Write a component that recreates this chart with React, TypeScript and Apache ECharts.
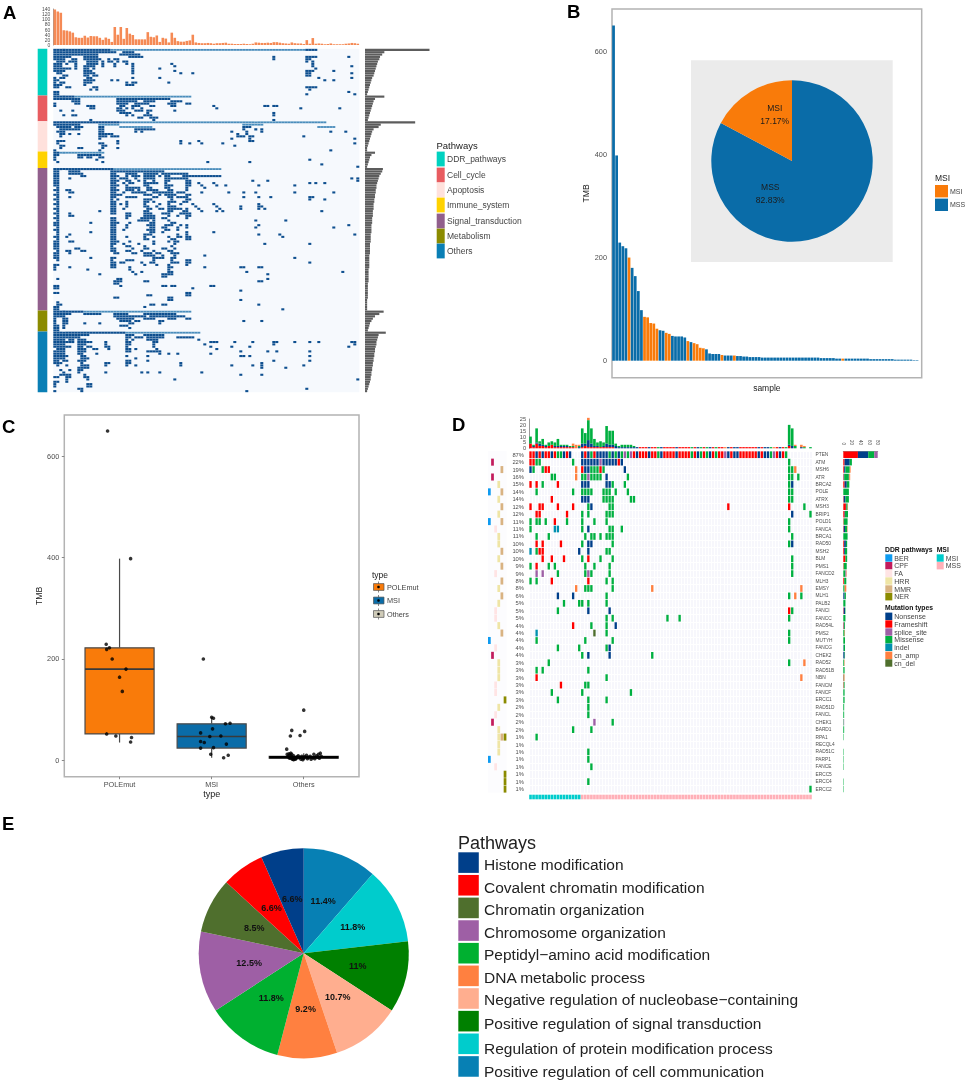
import { useEffect, useRef } from 'react';
import * as echarts from 'echarts';

const FONT = '"Liberation Sans", Arial, sans-serif';

// ---------- panel A ----------
const topCountsA = [
  138, 130, 125, 57, 56, 53, 48, 30, 28, 28, 36, 29, 35, 34, 34, 28, 20, 29, 24, 12,
  70, 40, 70, 24, 66, 44, 39, 22, 22, 22, 22, 50, 32, 30, 37, 12, 28, 25, 10, 48,
  28, 15, 13, 13, 16, 18, 40, 10, 8, 7, 7, 8, 7, 5, 7, 7, 8, 9, 5, 5,
  4, 4, 4, 5, 4, 3, 5, 10, 9, 8, 8, 9, 8, 11, 11, 9, 7, 6, 5, 10,
  7, 6, 6, 4, 19, 5, 27, 5, 6, 5, 3, 4, 6, 3, 3, 3, 3, 5, 6, 8, 7, 5,
];
const pathwayNamesA = ['DDR_pathways', 'Cell_cycle', 'Apoptosis', 'Immune_system', 'Signal_transduction', 'Metabolism', 'Others'];
const pathwayRowsA = [20, 11, 13, 7, 61, 9, 26];
const pathwayColorsA = ['#00d2c0', '#e85c60', '#ffe1dc', '#ffd200', '#915f8c', '#8b8b00', '#0a7fb5'];

// one string per heatmap row: mutated columns, "a-b" is a run
const mutatedRowsA = [
  // DDR_pathways
  '0-18,84-87', '0-18,19-20,23-26', '0-9,10-14,22-25,26-28', '0-5,10-14,25-29,73,84-87,98', '0-3,6-7,10-14,15,18,20-21,73,84-85',
  '1-3,5-6,7,11-14,16,18-19,21,23-24,84,86', '0-2,4,7,11-14,16,20,24,26,39,86', '0-2,7,10-13,16,20,26,40,86,99', '0-2,3-5,7,10-11,13,26,35,87', '0-1,2-3,10-12,26,40,84-86,93',
  '1-2,10-13,26,42,46,84-85,99', '3-4,10-11,13-14,84-85', '0,2-3,11-12,26,35,88,99', '0-1,10-13,19,21,90,93', '0,2-3,10-12,24,26-27,38',
  '0-2,10,24-26', '0-1,4-5,13-14,84-87', '12,14,85', '0-1,98', '0-1,84,100',
  // Cell_cycle
  '0-6', '0-8,21-38', '6-8,21-27,30-33,39-42', '0,7-8,21-24,27-31,38-40,44-45', '0,11-13,22-23,26-28,32-33,39-40,53,70-71,73-74',
  '12-13,21-22,24,26,29,54,82,95', '2,6,21-23,27-29,31-32,40', '22-25,31,73', '3,6-7,24,26,30-32,73', '28-29,32-34', '12,33,73',
  // Apoptosis
  '0-21', '0-8', '1-5,7-9,15-16,63-65', '2-8,15-16,27-33,63,67,69', '1-3,15-16,27,29,59,64,69,92,97',
  '2-3,5,8,15-16,17-19,61,64', '2,15-17,19-21,61-63,65-66,83', '15,59,65,100', '1-3,21,42,48,65-66', '1,15-16,21,42,45,49,56,100',
  '2-3,16-17,60', '2,8-9,16,21', '0,15,92',
  // Immune_system
  '0-1', '0-1,8-15', '0,8-9,11-12,15-16', '0,14,85', '1,16,51,65', '89', '101',
  // Signal_transduction
  '0-19', '0-1,5-8,19-36', '0-1,5-9,19-20,24-27,30-34,36-44', '0-1,9-10,19-21,24,26-28,30-33,35,37-38,43-55', '0-1,5,19-20,22-24,27,30-33,37-44,99,101',
  '0-1,19-21,24-25,28,30,33,37-38,44-45,66,71,101', '0-1,19-20,23,25-26,30-34,37,44-45,48,53,85,87,90', '0-1,19-21,24,30-31,37-39,44-45,49,54,57,68,80', '1,19-20,24-28,31-32,37-38,44,50', '0-1,4-5,19-21,24-26,28,31-34,38-39,44',
  '1,5-6,19-20,23,26-30,33-36,37-39,41-43,49,58,63,67,80,93', '0-1,19-22,30-32,35,37-40,44-45', '1,5,19-20,24-27,33-34,38-39,41-44,63,68,72,85-86', '0-1,19,21,30-32,39,44-45,85,90', '1,19-20,24,30-31,33,38-40,43-44',
  '0-1,19-20,22,24,30,35,38,42,46,53,68', '1,19-20,24,30-31,34,38-40,47,54,62,68-69', '0-1,19-20,23,31-32,35-36,38-42,44,48,55,62,68,70', '1,15,19-20,30-31,38-39,43-44,49,54,56,89', '0-1,5,19-20,24-25,30-32,36-37,38,42-45',
  '1,5-6,24-25,30-33,38,41,44-45', '0-1,19-20,24,29-33,36-37,44', '1,19-20,28-31,33,38,67,77', '0-1,12,19-21,25,32-33,39-40', '0-1,19-20,24,31-33,37-39,42,44,68,98',
  '1,19-20,24,32-33,36-37,41,44,67,93', '0-1,19-20,23,31-33,37-38,41', '1,12,19-20,32-33,36,44,53', '1,5,19-20,30-32,41,44,68,75,100', '0-1,4,19-20,24,30,33,38,41-42,44-45,76',
  '1,19-20,30-31,39-40,44-45', '0-1,5-6,19-21,25,33,38,40-41', '0-1,19-20,23,28,33,40,70,85', '0-1,19,24-25,30,39', '0-1,7-8,19-20,26,30-31,36-37,40',
  '1,4-5,9-10,19-20,24-25,29,33,38-39', '0-1,5,20-21,26-27,30-32,34-35,39-41', '0-1,30-33,36,40,50', '0-1,12,19-20,33-36,39-40,80', '1,19,24-26,33,39,44-45',
  '19-20,22-23,29,32-33,39-41,44-45,85', '0-1,19-20,30,34,38,44', '0,5,19-20,25,38-39,50,62-63,68-69', '0,11,25,38', '26,29,38-39,64,96',
  '15,27,36-37,38-39,71', '36-37', '1,21-22,71', '20-22,30-31,68-69', '20-21',
  '0-1,22,36-37,39-40,52-53', '0-1,46', '62', '0-1,44-45', '31-32,44-45',
  '20-21,38-39', '38-39,62', '1', '1-2,32-33,36-37,68', '0-1,30', '0-1,76',
  // Metabolism
  '0-9', '0-5,10-15,20-24,30-40', '0-3,20-30,32-36,37-43', '0,3-4,21-26,30-33,38-40,44-45', '0,3-4,22-25,27-28,35-36,63,69',
  '0,3-4,10,15,25-26,35', '0-1,3,22-24', '0-1,3,25', '0-1',
  // Others
  '0-23', '0-11,24-26,30-36', '0-8,24-25,27-29,31-36,41-46', '0-3,5-6,8-10,24,26,31-34,48', '0-6,8-12,17,24-25,33-34,52-54,60,66,73-74,80,85,88,99-100',
  '0-3,8-10,17,24-25,33,50,73,100', '0-5,8-9,11-12,17-18,24,33,52,59,65,98', '1-3,8-10,13-14,18,24-25,27,34,54', '0-3,8-10,24-25,31-35,62,71,74,85', '0-3,8-9,14,35,38,41,52',
  '0-4,9-10,24,31,62-63,65,85', '0-3,9-11,27', '0-1,3-4,8-10,24-25,31,73,85', '0-2,9,17-18,24-25,42,69', '1,4,9-11,17,24,27,42,59,66,69,83',
  '8-11,69,77', '2,5,8-9', '3,8,17,29,31,35,49', '2-5,10,62,69', '0-1,4-5,10-11',
  '4,11,40,101', '0-1,4', '0,11-12', '0,11-12', '8-9,84', '0,9,64',
];
// long single rows that read paler in the picture: row, from, to
const paleBandsA = [
  [0, 19, 83], [20, 7, 45], [31, 22, 90], [32, 15, 21], [32, 63, 69], [33, 22, 32], [33, 88, 93],
  [44, 2, 16], [51, 20, 55], [112, 10, 45], [121, 24, 48],
];
const rowTotalsA = [
  90, 27, 24, 21, 20, 18, 17, 16, 15, 14, 13, 12, 10, 9, 8, 7, 6, 5, 4, 3,
  27, 14, 12, 11, 10, 9, 8, 7, 6, 5, 4,
  70, 22, 19, 12, 10, 9, 8, 7, 6, 5, 4, 3, 3,
  14, 9, 7, 6, 5, 4, 3,
  25, 24, 22, 20, 19, 18, 17, 16, 16, 15, 15, 14, 14, 13, 13, 12, 12, 12, 11, 11,
  11, 10, 10, 10, 9, 9, 9, 9, 8, 8, 8, 8, 7, 7, 7, 7, 7, 6, 6, 6,
  6, 6, 6, 5, 5, 5, 5, 5, 5, 4, 4, 4, 4, 4, 4, 4, 3, 3, 3, 3, 3,
  26, 20, 14, 11, 9, 7, 6, 5, 4,
  29, 19, 18, 17, 16, 16, 15, 14, 14, 13, 13, 12, 12, 11, 11, 10, 10, 9, 9, 8, 8, 7, 6, 5, 4, 3,
];

// ---------- panel B ----------
const tmbSorted = [
  650, 398, 229, 222, 218, 200, 180, 164, 135, 98, 85, 84, 73, 72, 62, 59, 58, 54, 52, 48,
  47, 47, 47, 45, 38, 36, 34, 32, 25, 24, 22, 14, 13, 13, 13, 11, 10, 10, 10, 10,
  9, 9, 8, 8, 7, 7, 7, 7, 6, 6, 6, 6, 6, 6, 6, 6, 6, 6, 6, 6,
  6, 6, 6, 6, 6, 6, 6, 5, 5, 5, 5, 5, 4, 4, 4, 4, 4, 4, 4, 4,
  4, 4, 4, 3, 3, 3, 3, 3, 3, 3, 3, 2, 2, 2, 2, 2, 2, 1, 1,
];
const msiSampleIndex = [5, 10, 11, 12, 13, 14, 17, 18, 24, 26, 27, 28, 29, 35, 39, 74];
const msiShare = [
  { name: 'MSS', value: 82.83 },
  { name: 'MSI', value: 17.17 },
];

// ---------- panel C ----------
const typeNames = ['POLEmut', 'MSI', 'Others'];
// position, lower whisker, q1, median, q3, upper whisker
const typeBoxes = [
  [1, 35, 52, 180, 222, 398],
  [2, 5, 24, 47, 72, 85],
  [3, 1, 4, 6, 8, 14],
];
const pointsPole = [
  [0.87, 650], [1.12, 398], [0.855, 229], [0.89, 222], [0.86, 219], [0.92, 200], [1.07, 180],
  [1.0, 164], [1.03, 136], [0.86, 52], [0.96, 48], [1.13, 45], [1.12, 36],
];
const pointsMsi = [
  [1.91, 200], [2.0, 85], [2.02, 83], [2.15, 72], [2.2, 73], [2.01, 62], [1.88, 54], [2.1, 48], [1.98, 47],
  [1.88, 37], [1.92, 35], [2.16, 32], [1.88, 24], [2.02, 25], [1.99, 12], [2.18, 10], [2.13, 5],
];
const pointsOthers = [
  [3.0, 99], [2.87, 59], [3.01, 57], [2.855, 48], [2.96, 49], [2.815, 22],
  [2.82, 12], [2.83, 8], [2.84, 5], [2.84, 13], [2.85, 4], [2.85, 10], [2.86, 14], [2.86, 7], [2.87, 3], [2.87, 12],
  [2.88, 6], [2.88, 2], [2.89, 1], [2.89, 9], [2.9, 3], [2.91, 2], [2.92, 4], [2.93, 7], [2.94, 9], [2.95, 5],
  [2.96, 6], [2.97, 2], [2.98, 8], [2.99, 1], [3.0, 4], [3.01, 7], [3.03, 10], [3.04, 3], [3.05, 6], [3.07, 8],
  [3.08, 2], [3.1, 5], [3.11, 12], [3.12, 3], [3.14, 9], [3.15, 6], [3.16, 12], [3.17, 4], [3.18, 14], [3.19, 8],
];

// ---------- panel D ----------
const geneNames = [
  'PTEN', 'ATM', 'MSH6', 'ATR', 'BRCA2', 'POLE', 'ATRX', 'MSH3', 'BRIP1', 'POLD1', 'FANCA', 'BRCA1', 'RAD50', 'MSH2', 'BLM', 'PMS1',
  'FANCD2', 'MLH3', 'EMSY', 'MLH1', 'PALB2', 'FANCI', 'FANCC', 'RAD54L', 'PMS2', 'MUTYH', 'FANCG', 'CHEK2', 'RAD52', 'RAD51B', 'NBN',
  'FANCM', 'FANCF', 'ERCC1', 'RAD51D', 'FANCL', 'CHEK1', 'BARD1', 'RPA1', 'RECQL4', 'RAD51C', 'PARP1', 'FANCE', 'ERCC5', 'ERCC4', 'ERCC2',
];
const genePercents = [
  '87%', '22%', '19%', '16%', '15%', '14%', '14%', '12%', '12%', '11%', '11%', '11%', '10%', '10%', '10%', '9%',
  '9%', '8%', '8%', '6%', '5%', '5%', '5%', '4%', '4%', '4%', '4%', '4%', '3%', '3%', '3%',
  '3%', '3%', '3%', '2%', '2%', '2%', '2%', '1%', '1%', '1%', '1%', '1%', '1%', '1%', '1%',
];
const ddrPathwayNames = ['BER', 'CPF', 'FA', 'HRR', 'MMR', 'NER'];
const ddrPathwayColors = ['#0f9bf0', '#c21b5c', '#ffe4e4', '#efe5a5', '#d9b382', '#8b8b00'];
const genePathways = [
  '', 'CPF', 'MMR', 'CPF', 'HRR', 'BER MMR', 'HRR', 'MMR', 'HRR', 'BER MMR', 'FA', 'HRR', 'HRR', 'MMR', 'HRR', 'MMR',
  'FA', 'MMR', 'HRR', 'MMR', 'HRR', 'FA', 'FA', 'HRR', 'MMR', 'BER', 'FA', 'CPF', 'HRR', 'HRR', 'HRR',
  'FA', 'FA', 'NER', 'HRR', 'FA', 'CPF', 'HRR', 'HRR MMR NER', 'HRR', 'HRR', 'BER', 'FA', 'NER', 'NER', 'NER',
];
const mutationNames = ['Nonsense', 'Frameshift', 'splice_site', 'Missense', 'indel', 'cn_amp', 'cn_del'];
const mutationCodes = ['N', 'F', 'S', 'M', 'I', 'A', 'D'];
const mutationColors = ['#003f8a', '#ff0000', '#9e5fa5', '#00b040', '#0090b0', '#ff8040', '#4f6f2d'];

const ptenFirst = 'FFNFNFFNFMMNFN'; // columns 0-13
const ptenMiddle = 'NFNMFNNNNMNMNMSMSF'; // columns 17-34
const ptenLast = 'NFFFNFFMNFFFFNFFFFMFNMFMNFMFFSNFNNFFFFFFNFNNMSFNFM'; // columns 35-84
const oncoRows = [
  '',
  '0F 1F 2M 3M 14M 17N 18N 19N 20N 21N 22N 23S 24N 25N 26N 27N 28N 29F 30N 85M',
  '0N 1M 4M 5F 6F 15A 17F 18N 19N 20M 21M 22M 23F 24M 31N 85M 86M 87A',
  '7M 8M 15A 17M 18M 19S 20M 21M 22M 23M 25N 32M 85M 86M 88M',
  '0F 2F 4M 9F 17N 18N 19N 25N 26N 27M 31M 85M 86N',
  '2M 14M 17M 18M 19M 20M 24M 25M 26M 28M 32M 85M 86M',
  '7F 17N 18N 19N 24M 25M 26M 27M 33M 34M 85M 86M',
  '0F 3F 4F 9F 14F 19M 20N 26M 27M 65F 85F 90M',
  '2F 3F 12F 17M 19M 25M 26M 27M 86N 92M',
  '0M 2M 3M 5M 8F 12M 17M 21M 25M 85M',
  '0M 8I 9I 17M 19N 26M 27M 30M 85M',
  '2M 6M 18M 20M 21M 23M 25M 26M 27M 86M',
  '2F 4F 10F 17M 19N 20N 27M 85M 86N',
  '0I 2M 3F 4F 16N 19N 25M 26M',
  '4F 7F 11F 17M 19F 23M 27M 86M',
  '0M 2F 6M 8M 18M 21M 26M 86M',
  '2S 4S 9M 18M 19S 20M 26M 86M',
  '0M 2M 7F 19F 25M 27M',
  '15A 18M 19M 20M 27M 40A 89A',
  '9N 14N 25M 85M 87A 89M',
  '11M 16M 17M 19M 25M',
  '9M 19N 26N 85F 86M',
  '25M 27M 45M 49M 85M',
  '14F 20M 25M 28N',
  '2I 21D 25M 85M',
  '2M 18M 27M 85M',
  '9M 16M 25M 26N',
  '17M 19N 26N 40M',
  '6M 85M 90A',
  '2M 4M 19M',
  '2F 25M 89A',
  '10F 18M 19M',
  '7M 17M 33M',
  '9M 19M 25M',
  '19M',
  '19M',
  '21S 27M',
  '14M 20M',
  '2M',
  '',
  '19M',
  '19M',
  '20M',
  '',
  '19M',
  '92M',
];
const msiRuns: [string, number, number][] = [
  ['MSI', 0, 16],
  ['MSS', 17, 92],
];
const msiRunColors: Record<string, string> = { MSI: '#00cccc', MSS: '#ffb0b8' };

// stacked counts above the oncoprint; the long flat tail comes from ptenLast
const topFrameshift = [4, 1, 4, 2, 2, 1, 2, 3, 1, 1, 1, 1, 1, 1, 1, 0, 0, 1, 2, 1, 1, 1, 1, 1, 1, 1, 1, 1, 0, 0, 0, 0, 0, 0, 0];
const topNonsense = [0, 1, 1, 2, 1, 1, 0, 0, 1, 1, 1, 1, 1, 0, 0, 0, 1, 3, 2, 6, 3, 1, 1, 0, 1, 3, 2, 2, 2, 1, 1, 1, 1, 1, 1];
const topMissense = [6, 1, 12, 2, 5, 1, 3, 3, 3, 6, 1, 1, 1, 1, 1, 0, 1, 13, 9, 17, 13, 6, 3, 5, 3, 15, 12, 12, 2, 1, 2, 2, 2, 2, 1];
const topOther = [0, 0, 0, 0, 0, 0, 0, 0, 0, 0, 0, 0, 0, 0, 2, 3, 1, 0, 0, 2, 0, 0, 0, 0, 0, 0, 0, 0, 0, 0, 0, 0, 0, 0, 0];
const endFrameshift = [2, 0, 0, 0, 0, 0, 0, 0];
const endNonsense = [1, 2, 0, 0, 1, 0, 0, 0];
const endMissense = [17, 15, 2, 0, 0, 1, 0, 1];
const endOther = [0, 0, 1, 0, 2, 1, 0, 0];

// stacked counts per gene, right of the oncoprint
const sideFrameshift = [34, 3, 2, 1, 3, 0, 1, 6, 3, 1, 1, 0, 2, 2, 5, 1, 0, 2, 0, 0, 0, 1, 0, 1, 0, 0, 0, 0, 0, 0, 1, 1, 0, 0, 0, 0, 0, 0, 0, 0, 0, 0, 0, 0, 0, 0];
const sideNonsense = [24, 12, 3, 1, 5, 0, 4, 1, 1, 0, 3, 0, 4, 2, 0, 0, 0, 0, 0, 3, 0, 3, 0, 1, 0, 0, 1, 3, 0, 0, 0, 0, 0, 0, 0, 0, 0, 0, 0, 0, 0, 0, 0, 0, 0, 0];
const sideMissense = [14, 5, 10, 11, 6, 13, 8, 3, 7, 9, 5, 10, 3, 5, 4, 7, 5, 5, 3, 3, 5, 1, 5, 2, 3, 4, 3, 1, 2, 3, 1, 2, 3, 3, 2, 2, 1, 2, 1, 0, 1, 1, 1, 0, 1, 1];
const sideSplice = [8, 0, 0, 1, 0, 0, 0, 0, 0, 0, 0, 0, 0, 0, 0, 0, 2, 0, 0, 0, 0, 0, 0, 0, 0, 0, 0, 0, 0, 0, 0, 0, 0, 0, 0, 0, 1, 0, 0, 0, 0, 0, 0, 0, 0, 0];
const sideAmp = [0, 0, 2, 2, 0, 0, 0, 1, 0, 0, 1, 0, 0, 0, 0, 0, 1, 0, 4, 0, 0, 0, 0, 0, 1, 0, 0, 0, 1, 0, 1, 0, 0, 0, 0, 0, 0, 0, 0, 0, 0, 0, 0, 0, 0, 0];

// ---------- panel E ----------
const pathwayNamesE = [
  'Histone modification', 'Covalent chromatin modification', 'Chromatin organization', 'Chromosome organization',
  'Peptidyl\u2212amino acid modification', 'DNA metabolic process', 'Negative regulation of nucleobase\u2212containing',
  'Positive regulation of signal transduction', 'Regulation of protein modification process', 'Positive regulation of cell communication',
];
const pathwayShareE = [6.6, 6.6, 8.5, 12.5, 11.8, 9.2, 10.7, 11, 11.8, 11.4];
const pathwayColorsE = ['#003f8a', '#ff0000', '#4f6f2d', '#9e5fa5', '#00b030', '#ff8040', '#ffae8f', '#008000', '#00cccc', '#0780b4'];

const BLUE = '#0a6ca8';
const ORANGE = '#f97b0a';
const NAVY = '#0e4f8f';
const cols = (n: number) => Array.from({ length: n }, (_, i) => String(i));

function parseRows(rows: string[]) {
  const cells: number[][] = [];
  rows.forEach((row, r) => {
    if (!row) return;
    row.split(',').forEach((part) => {
      const [a, b] = part.split('-').map(Number);
      for (let c = a; c <= (b ?? a); c++) cells.push([c, r]);
    });
  });
  return cells;
}

function buildOption(): any {
  // panel D cells, one list per mutation type
  const pten = [...ptenFirst].map((t, i) => `${i}${t}`)
    .concat([...ptenMiddle].map((t, i) => `${i + 17}${t}`))
    .concat([...ptenLast].map((t, i) => `${i + 35}${t}`));
  const byType: Record<string, number[][]> = {};
  mutationCodes.forEach((c) => (byType[c] = []));
  oncoRows.forEach((row, r) => {
    const parts = r === 0 ? pten : row ? row.split(' ') : [];
    parts.forEach((p) => byType[p.slice(-1)].push([parseInt(p, 10), r]));
  });
  const tailCount = (code: string) => [...ptenLast].map((t) => (t === code ? 1 : 0));
  const topStacks = [
    { data: [...topFrameshift, ...tailCount('F'), ...endFrameshift], color: mutationColors[1] },
    { data: [...topNonsense, ...tailCount('N'), ...endNonsense], color: mutationColors[0] },
    { data: [...topMissense, ...tailCount('M'), ...endMissense], color: mutationColors[3] },
    { data: [...topOther, ...tailCount('S'), ...endOther], color: '#ff8040' },
  ];
  const sideStacks = [
    { data: sideFrameshift, color: mutationColors[1] },
    { data: sideNonsense, color: mutationColors[0] },
    { data: sideMissense, color: mutationColors[3] },
    { data: sideSplice, color: mutationColors[2] },
    { data: sideAmp, color: mutationColors[5] },
  ];
  const pathwayCells: Record<string, number[][]> = {};
  ddrPathwayNames.forEach((n) => (pathwayCells[n] = []));
  genePathways.forEach((g, r) => {
    if (g) g.split(' ').forEach((n) => pathwayCells[n].push([ddrPathwayNames.indexOf(n), r]));
  });
  const paleCells: number[][] = [];
  paleBandsA.forEach(([r, a, b]) => {
    for (let c = a; c <= b; c++) paleCells.push([c, r]);
  });
  const msiCells = msiRuns.map(([name, a, b]) => {
    const list: number[][] = [];
    for (let c = a; c <= b; c++) list.push([c, 0]);
    return { name, list };
  });

  const rowCats = cols(rowTotalsA.length);
  const tickText = { fontFamily: FONT, color: '#4d4d4d' };
  const hiddenCat = (gridIndex: number, data: string[], inverse = false) => ({ type: 'category', gridIndex, data, show: false, inverse });
  const frameAxisLabels = [0, 200, 400, 600];
  const smallAxis = {
    splitLine: { show: false },
    axisLine: { show: true, lineStyle: { color: '#555', width: 0.6 } },
    axisTick: { length: 2, lineStyle: { color: '#555', width: 0.6 } },
  };

  const grid = [
    { left: 53.3, top: 9, width: 306, height: 36, show: false },
    { left: 37.7, top: 48.7, width: 9.6, height: 343.6 },
    { left: 53.3, top: 48.7, width: 306, height: 343.6, show: true, backgroundColor: '#f6f9fd', borderWidth: 0 },
    { left: 365, top: 48.7, width: 64.5, height: 343.6 },
    { left: 612, top: 9, width: 309.7, height: 368.7, show: true, borderColor: '#b3b3b3', borderWidth: 1.5 },
    { left: 64.3, top: 415, width: 294.7, height: 361.7, show: true, borderColor: '#b3b3b3', borderWidth: 1.5 },
    { left: 529, top: 419, width: 283, height: 29.3 },
    { left: 487.8, top: 451, width: 18.8, height: 341.8, show: true, backgroundColor: '#fcfcfe', borderWidth: 0 },
    { left: 529, top: 451, width: 283, height: 341.8, show: true, backgroundColor: '#f7f7fc', borderWidth: 0 },
    { left: 843.3, top: 451, width: 34.4, height: 341.8 },
    { left: 529, top: 794.5, width: 283, height: 5 },
  ];

  const xAxis: any[] = [
    hiddenCat(0, cols(topCountsA.length)),
    hiddenCat(1, ['annotation']),
    hiddenCat(2, cols(topCountsA.length)),
    { type: 'value', gridIndex: 3, min: 0, max: 90, show: false },
    {
      type: 'category', gridIndex: 4, data: cols(100), name: 'sample', nameLocation: 'middle', nameGap: 6,
      nameTextStyle: { fontFamily: FONT, fontSize: 8.5, color: '#222' },
      axisLine: { show: false }, axisTick: { show: false }, axisLabel: { show: false },
    },
    {
      type: 'value', gridIndex: 5, min: 0.4, max: 3.6, name: 'type', nameLocation: 'middle', nameGap: 13,
      nameTextStyle: { fontFamily: FONT, fontSize: 9, color: '#222' },
      axisLine: { show: false, onZero: false }, splitLine: { show: false },
      axisTick: { customValues: [1, 2, 3], length: 2.5, lineStyle: { color: '#888' } },
      axisLabel: { customValues: [1, 2, 3], formatter: (v: number) => typeNames[v - 1], fontSize: 7.3, margin: 4, ...tickText },
    },
    hiddenCat(6, cols(93)),
    hiddenCat(7, ddrPathwayNames),
    {
      type: 'category', gridIndex: 8, data: cols(93),
      axisLine: { show: false }, axisTick: { show: false }, axisLabel: { show: false },
      splitLine: { show: true, interval: 0, lineStyle: { color: '#ffffff', width: 1 } },
    },
    {
      type: 'value', gridIndex: 9, position: 'top', min: 0, max: 80, interval: 20, ...smallAxis,
      axisLabel: { rotate: 90, fontSize: 4.6, margin: 6, showMinLabel: true, showMaxLabel: true, ...tickText },
    },
    hiddenCat(10, cols(93)),
  ];

  const yAxis: any[] = [
    {
      type: 'value', gridIndex: 0, min: 0, max: 140, interval: 20, ...smallAxis,
      axisLabel: { fontSize: 5, margin: 3, showMinLabel: true, showMaxLabel: true, ...tickText },
    },
    { type: 'value', gridIndex: 1, min: 0, max: rowTotalsA.length, inverse: true, show: false },
    hiddenCat(2, rowCats, true),
    hiddenCat(3, rowCats, true),
    {
      type: 'value', gridIndex: 4, min: -33, max: 682, name: 'TMB', nameLocation: 'middle', nameGap: 19,
      nameTextStyle: { fontFamily: FONT, fontSize: 8.7, color: '#222' },
      axisLine: { show: false }, splitLine: { show: false },
      axisTick: { customValues: frameAxisLabels, length: 2.5, lineStyle: { color: '#888' } },
      axisLabel: { customValues: frameAxisLabels, fontSize: 7.3, margin: 5, ...tickText },
    },
    {
      type: 'value', gridIndex: 5, min: -32.4, max: 681.5, name: 'TMB', nameLocation: 'middle', nameGap: 19,
      nameTextStyle: { fontFamily: FONT, fontSize: 8.7, color: '#222' },
      axisLine: { show: false }, splitLine: { show: false },
      axisTick: { customValues: frameAxisLabels, length: 2.5, lineStyle: { color: '#888' } },
      axisLabel: { customValues: frameAxisLabels, fontSize: 7.3, margin: 5, ...tickText },
    },
    {
      type: 'value', gridIndex: 6, min: 0, max: 25, interval: 5, ...smallAxis,
      axisLabel: { fontSize: 5.6, margin: 3, showMinLabel: true, showMaxLabel: true, ...tickText },
    },
    hiddenCat(7, geneNames, true),
    {
      type: 'category', gridIndex: 8, data: genePercents, inverse: true, position: 'left',
      axisLine: { show: false }, axisTick: { show: false },
      axisLabel: { interval: 0, fontSize: 5.8, margin: 5, ...tickText },
      splitLine: { show: true, interval: 0, lineStyle: { color: '#ffffff', width: 1 } },
    },
    hiddenCat(9, geneNames, true),
    hiddenCat(10, ['MSI']),
    {
      type: 'category', gridIndex: 8, data: geneNames, inverse: true, position: 'right',
      axisLine: { show: false }, axisTick: { show: false }, splitLine: { show: false },
      axisLabel: { interval: 0, fontSize: 4.8, margin: 3.5, align: 'left', ...tickText },
    },
  ];

  // category cells as rects sized by the two band axes
  const cellSeries = (gridIndex: number, data: number[][], color: string, name: string, insetX = 0, insetY = 0) => ({
    type: 'custom', name, xAxisIndex: gridIndex, yAxisIndex: gridIndex, data, encode: { x: 0, y: 1 }, silent: true,
    renderItem: (_: any, api: any) => {
      const [cx, cy] = api.coord([api.value(0), api.value(1)]);
      const [w, h] = api.size([1, 1]);
      return {
        type: 'rect',
        shape: { x: cx - w / 2 + insetX / 2, y: cy - h / 2 + insetY / 2, width: w - insetX, height: h - insetY },
        style: { fill: color },
      };
    },
  });

  const series: any[] = [
    {
      type: 'bar', xAxisIndex: 0, yAxisIndex: 0, data: topCountsA, barCategoryGap: '14%',
      itemStyle: { color: '#f58a55' }, clip: false,
    },
    ...pathwayNamesA.map((name, i) => ({
      type: 'bar', name, xAxisIndex: 1, yAxisIndex: 1, stack: 'pathway', barWidth: '100%',
      data: [pathwayRowsA[i]], itemStyle: { color: pathwayColorsA[i] },
    })),
    cellSeries(2, paleCells, '#4a8dbc', 'single-row bands', 0, 0.5),
    cellSeries(2, parseRows(mutatedRowsA), NAVY, 'mutated', 0, 0.25),
    {
      type: 'bar', xAxisIndex: 3, yAxisIndex: 3, data: rowTotalsA, barCategoryGap: '8%',
      itemStyle: { color: '#5c5c5c' },
    },
    {
      type: 'bar', xAxisIndex: 4, yAxisIndex: 4, barCategoryGap: '12%',
      data: tmbSorted.map((value, i) => ({
        value,
        itemStyle: { color: msiSampleIndex.includes(i) ? ORANGE : BLUE },
      })),
    },
    {
      type: 'pie', center: [792, 161], radius: 80.7, startAngle: 90, silent: true,
      data: msiShare.map((d) => ({
        ...d,
        itemStyle: { color: d.name === 'MSI' ? ORANGE : BLUE },
        label: { offset: d.name === 'MSI' ? [5, -9] : [-44, -5] },
      })),
      label: {
        position: 'inside', formatter: '{b}\n{c}%', fontFamily: FONT, fontSize: 8.5, lineHeight: 13, color: '#1c1c1c',
      },
      labelLine: { show: false },
    },
    {
      type: 'custom', xAxisIndex: 5, yAxisIndex: 5, data: typeBoxes, encode: { x: 0, y: [1, 2, 3, 4, 5] },
      renderItem: (_: any, api: any) => {
        const x = api.value(0);
        const i = x - 1;
        const fill = [ORANGE, BLUE, '#cfcbb8'][i];
        const half = api.size([0.375, 0])[0];
        const [cx, lo] = api.coord([x, api.value(1)]);
        const q1 = api.coord([x, api.value(2)])[1];
        const med = api.coord([x, api.value(3)])[1];
        const q3 = api.coord([x, api.value(4)])[1];
        const hi = api.coord([x, api.value(5)])[1];
        const ink = { stroke: '#4a4a4a', lineWidth: 1.2 };
        return {
          type: 'group',
          children: [
            { type: 'line', shape: { x1: cx, y1: lo, x2: cx, y2: q1 }, style: ink },
            { type: 'line', shape: { x1: cx, y1: q3, x2: cx, y2: hi }, style: ink },
            { type: 'rect', shape: { x: cx - half, y: q3, width: half * 2, height: q1 - q3 }, style: { fill, ...ink } },
            {
              type: 'line', shape: { x1: cx - half, y1: med, x2: cx + half, y2: med },
              style: { stroke: i === 2 ? '#000' : '#3a3a3a', lineWidth: i === 2 ? 2.4 : 1.6 },
            },
          ],
        };
      },
    },
    ...[pointsPole, pointsMsi, pointsOthers].map((data, i) => ({
      type: 'scatter', name: typeNames[i], xAxisIndex: 5, yAxisIndex: 5, data, symbolSize: 3.6, z: 4,
      itemStyle: { color: '#000' },
    })),
    ...topStacks.map((s) => ({
      type: 'bar', xAxisIndex: 6, yAxisIndex: 6, stack: 'top', data: s.data, barCategoryGap: '14%',
      itemStyle: { color: s.color }, clip: false,
    })),
    ...ddrPathwayNames.map((n, i) => cellSeries(7, pathwayCells[n], ddrPathwayColors[i], n, 0.4, 0.4)),
    ...mutationCodes.map((c, i) => cellSeries(8, byType[c], mutationColors[i], mutationNames[i], 0.7, 0.7)),
    ...sideStacks.map((s) => ({
      type: 'bar', xAxisIndex: 9, yAxisIndex: 9, stack: 'side', data: s.data, barCategoryGap: '12%',
      itemStyle: { color: s.color },
    })),
    ...msiCells.map(({ name, list }) => cellSeries(10, list, msiRunColors[name], `${name} status`, 0.4, 0.4)),
    {
      type: 'pie', center: [303.7, 953.3], radius: 105, startAngle: 90, clockwise: true, silent: true,
      data: pathwayNamesE.map((name, i) => ({
        name, value: pathwayShareE[i], itemStyle: { color: pathwayColorsE[i] },
      })).reverse(),
      label: { position: 'inside', formatter: '{c}%', fontFamily: FONT, fontSize: 9, fontWeight: 'bold', color: '#111' },
      labelLine: { show: false },
    },
  ];

  // hand-placed legends, titles and panel letters
  const graphic: any[] = [];
  const box = (x: number, y: number, width: number, height: number, fill: string, z = 1) =>
    graphic.push({ type: 'rect', z, shape: { x, y, width, height }, style: { fill } });
  const text = (x: number, y: number, label: string, fontSize: number, fontWeight = 'normal', fill = '#333') =>
    graphic.push({
      type: 'text', x, y, z: 5,
      style: { text: label, fontFamily: FONT, fontSize, fontWeight, fill, textAlign: 'left', textVerticalAlign: 'middle' },
    });

  text(3, 12, 'A', 18.5, 'bold', '#000');
  text(567, 11, 'B', 18.5, 'bold', '#000');
  text(2, 426, 'C', 18.5, 'bold', '#000');
  text(452, 424, 'D', 18.5, 'bold', '#000');
  text(2, 823, 'E', 18.5, 'bold', '#000');

  text(436.5, 145, 'Pathways', 9.5, 'normal', '#222');
  pathwayNamesA.forEach((name, i) => {
    const y = [159, 175, 190, 205, 221, 236, 251][i];
    box(436.7, y - 7.4, 8, 14.8, pathwayColorsA[i]);
    text(447, y, name, 8.5, 'normal', '#444');
  });

  box(691, 60.3, 201.7, 201.7, '#ebebeb', 0);
  text(935, 178, 'MSI', 8.5, 'normal', '#222');
  box(935, 185, 13, 12.4, ORANGE);
  box(935, 198.6, 13, 12.4, BLUE);
  text(950, 191, 'MSI', 7, 'normal', '#444');
  text(950, 204.7, 'MSS', 7, 'normal', '#444');

  text(372, 574.5, 'type', 8.5, 'normal', '#222');
  typeNames.forEach((name, i) => {
    const y = [587, 600.5, 614][i];
    const fill = [ORANGE, BLUE, '#cfcbb8'][i];
    graphic.push({ type: 'line', z: 2, shape: { x1: 378.5, y1: y - 5.5, x2: 378.5, y2: y + 5.5 }, style: { stroke: '#555', lineWidth: 0.7 } });
    graphic.push({ type: 'rect', z: 3, shape: { x: 373.5, y: y - 3.4, width: 10.5, height: 6.8 }, style: { fill, stroke: '#555', lineWidth: 0.7 } });
    graphic.push({ type: 'circle', z: 4, shape: { cx: 378.5, cy: y, r: 1.3 }, style: { fill: '#000' } });
    text(387, y, name, 7.3, 'normal', '#444');
  });

  text(885, 549, 'DDR pathways', 6.8, 'bold', '#111');
  ddrPathwayNames.forEach((name, i) => {
    const y = [558, 565.7, 573.3, 581, 589, 596.7][i];
    box(885.3, y - 3.7, 7, 7.4, ddrPathwayColors[i]);
    text(894.3, y, name, 7, 'normal', '#444');
  });
  text(936.7, 549, 'MSI', 6.8, 'bold', '#111');
  box(936.7, 554.3, 7, 7.4, msiRunColors.MSI);
  box(936.7, 562, 7, 7.4, msiRunColors.MSS);
  text(945.7, 558, 'MSI', 7, 'normal', '#444');
  text(945.7, 565.7, 'MSS', 7, 'normal', '#444');
  text(885, 607.3, 'Mutation types', 6.8, 'bold', '#111');
  mutationNames.forEach((name, i) => {
    const y = [616.3, 624, 632, 639.7, 647.3, 655.3, 663][i];
    box(885.3, y - 3.7, 7, 7.4, mutationColors[i]);
    text(894.3, y, name, 7, 'normal', '#444');
  });

  text(458, 843, 'Pathways', 18, 'normal', '#222');
  pathwayNamesE.forEach((name, i) => {
    const y = [864.3, 887, 909.6, 932, 954.6, 977, 999.6, 1023, 1048, 1071.7][i];
    box(458.3, 852.3 + i * 22.65, 20.5, 20.6, pathwayColorsE[i]);
    text(484, y, name, 15.5, 'normal', '#222');
  });

  return {
    animation: false,
    backgroundColor: '#ffffff',
    textStyle: { fontFamily: FONT },
    grid,
    xAxis,
    yAxis,
    series,
    graphic,
  };
}

export default function App() {
  const ref = useRef<HTMLDivElement>(null);

  useEffect(() => {
    if (!ref.current) return;
    const chart = echarts.init(ref.current, undefined, { renderer: 'svg' });
    chart.setOption(buildOption());
    return () => chart.dispose();
  }, []);

  return (
    <div
      ref={ref}
      style={{ position: 'absolute', left: 0, top: 0, width: 969, height: 1086, filter: 'blur(0.35px)' }}
    />
  );
}
